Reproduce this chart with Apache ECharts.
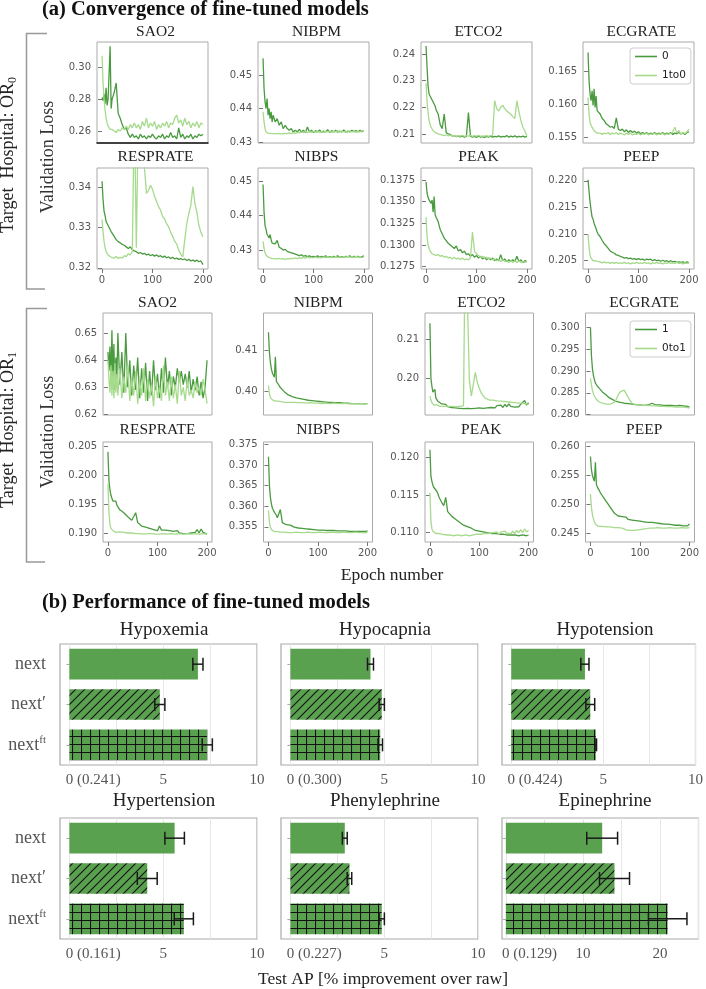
<!DOCTYPE html>
<html><head><meta charset="utf-8">
<script src="https://cdn.jsdelivr.net/npm/echarts@6/dist/echarts.min.js"></script>
<style>html,body{margin:0;padding:0;background:#fff}#c{width:706px;height:989px}</style>
</head><body><div id="c"></div>
<script>
// ---------------- DATA ----------------
const EPOCHS = [0,2,4,6,8,10,12,14,16,18,20,
 24,28,32,36,40,44,48,52,56,60,64,68,72,76,80,84,88,92,96,100,
 104,108,112,116,120,124,128,132,136,140,144,148,152,156,160,164,168,172,176,180,
 184,188,192,196,200];
const X_TICKS = [0,100,200];

// Target hospital OR0 : series "0" (A) and "1to0" (B)
const OR0_SAO2_A = [0.281,0.279,0.283,0.277,0.287,0.276,0.280,0.279,0.313,0.274,0.280,
 0.284,0.290,0.271,0.268,0.264,0.261,0.262,0.258,0.256,0.258,
 0.256,0.257,0.255,0.258,0.256,0.257,0.255,0.257,0.256,0.258,
 0.256,0.255,0.257,0.256,0.258,0.255,0.257,0.256,0.259,0.256,
 0.257,0.255,0.262,0.256,0.258,0.255,0.257,0.256,0.258,0.255,
 0.257,0.256,0.258,0.257,0.258];
const OR0_SAO2_B = [0.307,0.290,0.280,0.273,0.268,0.265,0.263,0.262,0.261,0.260,0.261,
 0.260,0.259,0.261,0.260,0.262,0.261,0.263,0.261,0.264,0.262,
 0.265,0.262,0.264,0.261,0.266,0.263,0.268,0.262,0.265,0.263,
 0.266,0.261,0.264,0.262,0.265,0.263,0.266,0.262,0.265,0.264,
 0.268,0.270,0.265,0.267,0.263,0.268,0.264,0.266,0.262,0.265,
 0.263,0.266,0.262,0.265,0.264];
const OR0_NIBPM_A = [0.455,0.446,0.442,0.440,0.443,0.438,0.440,0.437,0.439,0.436,0.438,
 0.436,0.437,0.435,0.436,0.434,0.435,0.434,0.4335,0.434,0.433,
 0.4335,0.433,0.4338,0.433,0.4335,0.4328,0.4345,0.433,0.4335,0.4328,
 0.4334,0.433,0.4336,0.4329,0.4333,0.433,0.4337,0.4329,0.4334,0.433,
 0.4335,0.4329,0.4333,0.433,0.4336,0.4329,0.4333,0.433,0.4335,0.4331,
 0.4334,0.433,0.4335,0.4331,0.4333];
const OR0_NIBPM_B = [0.439,0.436,0.434,0.433,0.4328,0.4326,0.4325,0.4326,0.4324,0.4325,0.4324,
 0.4325,0.4324,0.4326,0.4324,0.4325,0.4326,0.4325,0.4327,0.4325,0.4328,
 0.4326,0.4329,0.4327,0.433,0.4328,0.4331,0.4328,0.4331,0.4329,0.4332,
 0.4329,0.4332,0.4329,0.4331,0.4329,0.4332,0.433,0.4333,0.4329,0.4332,
 0.433,0.4334,0.4329,0.4333,0.433,0.4332,0.4329,0.4334,0.433,0.4332,
 0.4329,0.4333,0.433,0.4334,0.4331];
const OR0_ETCO2_A = [0.243,0.235,0.228,0.225,0.2245,0.2235,0.223,0.222,0.2215,0.2205,0.219,
 0.2175,0.2135,0.212,0.2175,0.2105,0.21,0.2098,0.2092,0.2094,0.209,
 0.2093,0.2089,0.2092,0.2088,0.2091,0.218,0.2092,0.2088,0.2091,0.2087,
 0.2092,0.2088,0.209,0.2087,0.2091,0.2088,0.2092,0.2088,0.2091,0.2089,
 0.2093,0.2088,0.2091,0.2089,0.2094,0.2088,0.2092,0.2089,0.2093,0.2088,
 0.2091,0.2089,0.2092,0.2088,0.2091];
const OR0_ETCO2_B = [0.229,0.222,0.218,0.215,0.2135,0.2125,0.2118,0.2112,0.211,0.2106,0.2104,
 0.21,0.2098,0.2096,0.2094,0.2097,0.2093,0.2096,0.2092,0.2095,0.2091,
 0.2094,0.2092,0.2095,0.2091,0.2094,0.2092,0.2095,0.2091,0.2094,0.2092,
 0.2095,0.2091,0.2093,0.2092,0.2094,0.2091,0.2094,0.2095,0.2225,0.2195,
 0.2186,0.22,0.2207,0.2195,0.2186,0.218,0.2174,0.2165,0.2158,0.2224,
 0.2185,0.215,0.2125,0.211,0.2093];
const OR0_ECGRATE_A = [0.1678,0.1635,0.1615,0.1605,0.162,0.1598,0.1623,0.1595,0.1612,0.159,0.1588,
 0.1585,0.1578,0.1575,0.157,0.1568,0.1565,0.1566,0.1563,0.1579,0.1562,
 0.156,0.1562,0.1558,0.1561,0.1557,0.156,0.1557,0.1559,0.1556,0.1558,
 0.1555,0.1557,0.1555,0.1557,0.1554,0.1556,0.1555,0.1557,0.1554,0.1556,
 0.1555,0.1557,0.1554,0.1556,0.1555,0.1557,0.1554,0.1556,0.1555,0.1557,
 0.1555,0.1556,0.1554,0.1557,0.1558];
const OR0_ECGRATE_B = [0.161,0.1585,0.1572,0.1568,0.1566,0.1562,0.156,0.1558,0.1557,0.1556,0.1555,
 0.1556,0.1554,0.1556,0.1555,0.1557,0.1554,0.1556,0.1555,0.1557,0.1554,
 0.1556,0.1555,0.1553,0.1556,0.1554,0.1556,0.1553,0.1555,0.1554,0.1556,
 0.1553,0.1555,0.1554,0.1556,0.1553,0.1555,0.1554,0.1556,0.1553,0.1555,
 0.1554,0.1556,0.1553,0.1555,0.1554,0.1556,0.1558,0.1565,0.1556,0.156,
 0.1554,0.1557,0.1555,0.1558,0.1562];
const OR0_RESPRATE_A = [0.3415,0.337,0.334,0.333,0.3315,0.331,0.3305,0.33,0.3295,0.329,0.3288,
 0.3278,0.327,0.3265,0.3262,0.3258,0.3256,0.3252,0.3248,0.3252,0.3245,
 0.3242,0.324,0.3236,0.3238,0.3234,0.3236,0.3232,0.3234,0.323,0.3233,
 0.3229,0.3232,0.3228,0.323,0.3226,0.3229,0.3225,0.3227,0.3223,0.3226,
 0.3222,0.3224,0.3221,0.3223,0.322,0.3222,0.3218,0.3221,0.3217,0.3219,
 0.3216,0.3219,0.3215,0.3217,0.3208];
const OR0_RESPRATE_B = [0.332,0.329,0.3265,0.325,0.324,0.3238,0.3232,0.323,0.3228,0.3226,0.3225,
 0.3224,0.3228,0.3223,0.3226,0.3224,0.323,0.3228,0.3235,0.3232,0.324,
 0.36,0.325,0.36,0.36,0.36,0.345,0.3385,0.3392,0.3405,0.3395,
 0.3378,0.3365,0.3352,0.3343,0.3327,0.3322,0.3309,0.3302,0.3288,0.3278,
 0.3266,0.3259,0.3244,0.3234,0.3227,0.327,0.331,0.3335,0.3355,0.3402,
 0.336,0.3338,0.3305,0.3288,0.3277];
const OR0_NIBPS_A = [0.449,0.441,0.437,0.436,0.4345,0.435,0.4335,0.4345,0.433,0.432,0.4325,
 0.4318,0.4328,0.4308,0.4305,0.43,0.4302,0.4296,0.4294,0.4292,0.429,
 0.4288,0.4286,0.4284,0.4286,0.4282,0.4284,0.4281,0.4283,0.428,0.4282,
 0.428,0.4283,0.4279,0.4282,0.428,0.4283,0.4279,0.4281,0.4279,0.4282,
 0.428,0.4283,0.4279,0.4281,0.4279,0.4282,0.428,0.4283,0.4279,0.4282,
 0.428,0.4282,0.4279,0.4281,0.4283];
const OR0_NIBPS_B = [0.4325,0.4305,0.4292,0.4285,0.4282,0.428,0.4278,0.4277,0.4276,0.4275,0.4276,
 0.4275,0.4274,0.4276,0.4274,0.4275,0.4273,0.4275,0.4274,0.4276,0.4275,
 0.4277,0.4275,0.4278,0.4276,0.4279,0.4276,0.428,0.4277,0.4279,0.4277,
 0.428,0.4277,0.4279,0.4277,0.428,0.4278,0.4281,0.4278,0.428,0.4278,
 0.4281,0.4278,0.428,0.4278,0.4281,0.4279,0.4282,0.4279,0.4281,0.4278,
 0.4282,0.4279,0.4281,0.4278,0.428];
const OR0_PEAK_A = [0.1373,0.136,0.1355,0.1352,0.135,0.1348,0.1352,0.1338,0.1356,0.1335,0.1332,
 0.1327,0.1318,0.1313,0.1308,0.1305,0.1302,0.13,0.1298,0.1296,0.1299,
 0.1293,0.1295,0.1291,0.1293,0.1289,0.129,0.1287,0.1289,0.1286,0.1288,
 0.1285,0.1287,0.1284,0.1286,0.1283,0.1285,0.1283,0.1285,0.1282,0.1284,
 0.1282,0.1289,0.1282,0.1284,0.1281,0.1283,0.1281,0.1283,0.1281,0.1287,
 0.1281,0.1283,0.128,0.1282,0.1281];
const OR0_PEAK_B = [0.1332,0.131,0.13,0.1296,0.1293,0.1292,0.129,0.1291,0.1289,0.129,0.1288,
 0.1289,0.1287,0.1288,0.1286,0.1287,0.1285,0.1286,0.1284,0.1286,0.1284,
 0.1285,0.1283,0.1285,0.1283,0.1284,0.1283,0.1285,0.1315,0.1293,0.129,
 0.1288,0.1286,0.1287,0.1285,0.1286,0.1284,0.1285,0.1283,0.1284,0.1282,
 0.1283,0.1281,0.1283,0.1281,0.1282,0.128,0.1282,0.128,0.1282,0.128,
 0.1282,0.128,0.1281,0.128,0.1281];
const OR0_PEEP_A = [0.2202,0.218,0.216,0.2145,0.2132,0.2128,0.212,0.2115,0.211,0.2104,0.21,
 0.2095,0.2088,0.2082,0.2078,0.2073,0.2068,0.2066,0.2064,0.2061,0.206,
 0.2058,0.2057,0.2055,0.2056,0.2054,0.2055,0.2053,0.2054,0.2052,0.2054,
 0.2052,0.2053,0.2051,0.2053,0.2052,0.2053,0.205,0.2052,0.205,0.2051,
 0.2049,0.2051,0.2049,0.205,0.2048,0.205,0.2048,0.2049,0.2047,0.2048,
 0.2047,0.2048,0.2046,0.2048,0.2046];
const OR0_PEEP_B = [0.21,0.2075,0.206,0.2055,0.2052,0.205,0.2049,0.205,0.2048,0.2049,0.2047,
 0.2048,0.2046,0.2048,0.2046,0.2047,0.2045,0.2047,0.2045,0.2047,0.2045,
 0.2046,0.2045,0.2047,0.2045,0.2046,0.2044,0.2046,0.2045,0.2047,0.2045,
 0.2046,0.2045,0.2047,0.2045,0.2046,0.2044,0.2046,0.2045,0.2047,0.2045,
 0.2046,0.2044,0.2046,0.2045,0.2047,0.2045,0.2046,0.2045,0.2047,0.2045,
 0.2046,0.2044,0.2046,0.2045,0.2046];

// Target hospital OR1 : series "1" (A) and "0to1" (B)
const OR1_SAO2_A = [0.643,0.636,0.645,0.632,0.651,0.634,0.646,0.629,0.641,0.633,0.65,
 0.631,0.643,0.628,0.65,0.63,0.64,0.627,0.638,0.629,0.641,
 0.626,0.637,0.628,0.639,0.625,0.636,0.627,0.64,0.629,0.635,
 0.626,0.637,0.628,0.641,0.63,0.636,0.627,0.634,0.63,0.637,
 0.632,0.636,0.631,0.635,0.63,0.636,0.628,0.633,0.629,0.634,
 0.627,0.632,0.626,0.63,0.64];
const OR1_SAO2_B = [0.64,0.633,0.628,0.638,0.627,0.636,0.626,0.639,0.628,0.635,0.627,
 0.637,0.626,0.634,0.628,0.638,0.625,0.633,0.627,0.636,0.624,
 0.632,0.627,0.637,0.625,0.633,0.626,0.631,0.623,0.634,0.626,
 0.63,0.625,0.638,0.627,0.632,0.625,0.634,0.626,0.631,0.624,
 0.636,0.627,0.63,0.625,0.633,0.627,0.629,0.626,0.632,0.628,
 0.63,0.627,0.633,0.629,0.624];
const OR1_NIBPM_A = [0.4145,0.4095,0.407,0.4055,0.4045,0.404,0.4035,0.4085,0.4025,0.4022,0.4018,
 0.401,0.4005,0.4,0.3996,0.3992,0.3994,0.3988,0.399,0.3985,0.3987,
 0.3983,0.3985,0.3981,0.3983,0.3979,0.3981,0.3978,0.398,0.3977,0.3979,
 0.3976,0.3978,0.3975,0.3977,0.3974,0.3976,0.3974,0.3976,0.3973,0.3975,
 0.3973,0.3975,0.3972,0.3974,0.3972,0.3974,0.3971,0.3973,0.3971,0.3973,
 0.3971,0.3973,0.397,0.3972,0.3971];
const OR1_NIBPM_B = [0.4015,0.3995,0.3985,0.3982,0.398,0.3979,0.3978,0.3977,0.3978,0.3976,0.3977,
 0.3976,0.3975,0.3976,0.3974,0.3975,0.3974,0.3976,0.3974,0.3975,0.3973,
 0.3975,0.3973,0.3974,0.3972,0.3974,0.3973,0.3974,0.3972,0.3974,0.3972,
 0.3973,0.3971,0.3973,0.3972,0.3973,0.3971,0.3973,0.3972,0.3973,0.3971,
 0.3972,0.3971,0.3973,0.3971,0.3972,0.397,0.3972,0.3971,0.3972,0.397,
 0.3972,0.3971,0.3972,0.397,0.3971];
const OR1_ETCO2_A = [0.214,0.2,0.198,0.1965,0.196,0.1972,0.195,0.1955,0.1942,0.1945,0.1938,
 0.1935,0.1932,0.1934,0.1928,0.193,0.1926,0.1929,0.1925,0.1928,0.1924,
 0.1927,0.1923,0.1926,0.1924,0.1927,0.1923,0.1926,0.1924,0.1928,0.1925,
 0.1929,0.1924,0.1928,0.1925,0.1929,0.1926,0.193,0.1925,0.1931,0.1927,
 0.1932,0.1926,0.1934,0.1928,0.1935,0.1929,0.1933,0.1927,0.1932,0.1928,
 0.1934,0.1929,0.1944,0.1932,0.1938];
const OR1_ETCO2_B = [0.1955,0.1945,0.1938,0.1935,0.1932,0.1934,0.193,0.1933,0.193,0.1932,0.1929,
 0.1932,0.1929,0.1933,0.1929,0.1932,0.1929,0.1931,0.1928,0.1932,0.1929,
 0.1931,0.193,0.24,0.24,0.1995,0.1955,0.1985,0.2015,0.199,0.1975,
 0.1963,0.1956,0.195,0.1947,0.1945,0.1942,0.1945,0.194,0.1943,0.1938,
 0.1942,0.1937,0.1941,0.1936,0.194,0.1935,0.1939,0.1934,0.1938,0.1933,
 0.1937,0.1932,0.1936,0.1931,0.1934];
const OR1_ECGRATE_A = [0.3,0.2935,0.2905,0.289,0.288,0.2872,0.287,0.2865,0.2862,0.286,0.2857,
 0.2852,0.2848,0.2845,0.284,0.2838,0.2835,0.2833,0.283,0.2832,0.2828,
 0.2829,0.2826,0.2827,0.2825,0.2826,0.2824,0.2825,0.2823,0.2824,0.2822,
 0.2823,0.2821,0.2823,0.2822,0.2824,0.2826,0.2823,0.2822,0.2821,0.2822,
 0.282,0.2821,0.282,0.2821,0.2819,0.2821,0.2819,0.282,0.2819,0.2821,
 0.2819,0.282,0.2818,0.2819,0.2817];
const OR1_ECGRATE_B = [0.2883,0.2868,0.2855,0.2848,0.2842,0.2838,0.2835,0.2832,0.283,0.2829,0.2828,
 0.2826,0.2825,0.2824,0.2825,0.2824,0.2826,0.2828,0.2835,0.2845,0.2852,
 0.285,0.2856,0.2848,0.284,0.2832,0.2826,0.2823,0.2822,0.2821,0.2822,
 0.282,0.2821,0.2819,0.2821,0.2819,0.282,0.2818,0.282,0.2818,0.2819,
 0.2817,0.2819,0.2817,0.2818,0.2816,0.2818,0.2816,0.2817,0.2816,0.2817,
 0.2815,0.2817,0.2815,0.2816,0.2815];
const OR1_RESPRATE_A = [0.204,0.199,0.1975,0.1965,0.196,0.1955,0.1958,0.1952,0.1955,0.1948,0.1945,
 0.194,0.1942,0.1935,0.1933,0.1928,0.1925,0.1922,0.192,0.1935,0.1918,
 0.1915,0.1912,0.1913,0.191,0.1911,0.1908,0.191,0.1906,0.1907,0.1904,
 0.1912,0.1905,0.1903,0.1905,0.1902,0.1904,0.1901,0.1903,0.19,0.1904,
 0.19,0.1902,0.1899,0.1901,0.1899,0.1902,0.19,0.1903,0.1901,0.1906,
 0.19,0.1907,0.1901,0.1904,0.1898];
const OR1_RESPRATE_B = [0.1985,0.1935,0.1915,0.1908,0.1905,0.1904,0.1902,0.1904,0.1901,0.1903,0.19,
 0.1902,0.1899,0.1901,0.1898,0.19,0.1898,0.19,0.1897,0.1899,0.1897,
 0.1899,0.1897,0.1898,0.1896,0.1899,0.1897,0.1899,0.1897,0.1898,0.1896,
 0.1898,0.1897,0.1899,0.1896,0.1898,0.1897,0.1899,0.1897,0.1898,0.1896,
 0.1899,0.1897,0.1898,0.1896,0.1899,0.1897,0.1898,0.1896,0.1899,0.1897,
 0.1898,0.1897,0.1899,0.1897,0.1898];
const OR1_NIBPS_A = [0.372,0.365,0.362,0.3605,0.3595,0.359,0.3585,0.3582,0.3578,0.3572,0.3568,
 0.3592,0.356,0.3556,0.3555,0.3552,0.3554,0.355,0.3549,0.3551,0.3547,
 0.3549,0.3546,0.3548,0.3545,0.3547,0.3544,0.3546,0.3543,0.3545,0.3542,
 0.3544,0.3542,0.3544,0.3541,0.3543,0.3541,0.3543,0.3541,0.3542,0.354,
 0.3542,0.354,0.3542,0.354,0.3541,0.3539,0.3541,0.3539,0.3541,0.3539,
 0.3541,0.3539,0.354,0.3539,0.354];
const OR1_NIBPS_B = [0.359,0.356,0.3548,0.3543,0.354,0.3539,0.3538,0.3539,0.3537,0.3538,0.3536,
 0.3537,0.3535,0.3537,0.3535,0.3536,0.3534,0.3536,0.3535,0.3537,0.3535,
 0.3536,0.3534,0.3536,0.3535,0.3537,0.3535,0.3536,0.3534,0.3536,0.3535,
 0.3537,0.3535,0.3536,0.3534,0.3536,0.3535,0.3537,0.3535,0.3536,0.3534,
 0.3536,0.3535,0.3537,0.3535,0.3536,0.3534,0.3536,0.3535,0.3537,0.3535,
 0.3536,0.3534,0.3536,0.3535,0.3536];
const OR1_PEAK_A = [0.121,0.1175,0.1168,0.1163,0.116,0.1161,0.1158,0.1155,0.1152,0.1148,0.1145,
 0.114,0.1136,0.1147,0.1128,0.1125,0.1122,0.112,0.1118,0.1116,0.1114,
 0.1112,0.111,0.1111,0.1108,0.1109,0.1106,0.1105,0.1103,0.1104,0.1102,
 0.11,0.1101,0.1099,0.11,0.1098,0.1099,0.1097,0.1099,0.1097,0.1098,
 0.1096,0.1098,0.1096,0.1097,0.1096,0.1097,0.1095,0.1097,0.1095,0.1096,
 0.1095,0.1097,0.1095,0.1096,0.1097];
const OR1_PEAK_B = [0.1153,0.1115,0.1105,0.1102,0.11,0.1101,0.1099,0.11,0.1098,0.1099,0.1097,
 0.1098,0.1096,0.1097,0.1095,0.1097,0.1095,0.1096,0.1095,0.1097,0.1095,
 0.1096,0.1095,0.1097,0.1095,0.1096,0.1095,0.1097,0.1096,0.1098,0.1096,
 0.1098,0.1097,0.1099,0.1097,0.1099,0.1097,0.11,0.1098,0.1101,0.1098,
 0.1101,0.1099,0.1102,0.1099,0.1101,0.1099,0.1102,0.1099,0.1103,0.11,
 0.1104,0.11,0.1105,0.1101,0.1103];
const OR1_PEEP_A = [0.2583,0.256,0.255,0.2545,0.254,0.2573,0.2535,0.253,0.2528,0.2524,0.252,
 0.2515,0.251,0.2505,0.25,0.2495,0.249,0.2485,0.2482,0.248,0.2478,
 0.2479,0.2476,0.2478,0.2474,0.2477,0.2473,0.2475,0.2472,0.2474,0.2471,
 0.2473,0.247,0.2472,0.2469,0.2471,0.2469,0.247,0.2468,0.247,0.2467,
 0.2469,0.2466,0.2468,0.2466,0.2467,0.2465,0.2467,0.2464,0.2466,0.2464,
 0.2466,0.2463,0.2466,0.2463,0.2466];
const OR1_PEEP_B = [0.2518,0.2495,0.2482,0.2475,0.247,0.2466,0.2465,0.2463,0.2462,0.2463,0.2461,
 0.2462,0.246,0.2461,0.2459,0.2461,0.2459,0.246,0.2458,0.246,0.2458,
 0.2459,0.2457,0.2456,0.2458,0.2455,0.2457,0.2455,0.2458,0.2456,0.2459,
 0.2457,0.246,0.2458,0.2461,0.2459,0.2461,0.2459,0.2462,0.246,0.2462,
 0.2459,0.2461,0.2459,0.2462,0.246,0.2462,0.2459,0.2461,0.2459,0.2462,
 0.246,0.2461,0.2459,0.2461,0.246];

// Bar panel data (b)
const TASKS = ['Hypoxemia','Hypocapnia','Hypotension','Hypertension','Phenylephrine','Epinephrine'];
const BAR_CATS = ['next','next′','next^ft'];
const BASELINES = ['0.241','0.300','0.424','0.161','0.227','0.129'];
const NEXT    = [6.85, 4.27, 4.00, 5.61, 2.90, 12.5];
const NEXT_P  = [4.82, 4.87, 4.29, 4.15, 3.15, 14.1];
const NEXT_FT = [7.35, 4.79, 4.59, 6.10, 4.87, 21.0];
const ERR_NEXT    = [0.27, 0.16, 0.22, 0.52, 0.13, 2.0];
const ERR_NEXT_P  = [0.27, 0.14, 0.24, 0.53, 0.12, 1.95];
const ERR_NEXT_FT = [0.27, 0.12, 0.04, 0.51, 0.14, 2.5];
const BAR_XMAX = [10,10,10,10,10,25];
const BAR_XLABELS = [[0,5,10],[0,5,10],[0,5,10],[0,5,10],[0,5,10],[0,10,20]];
const BAR_XGRID = [[0,2.5,5,7.5,10],[0,2.5,5,7.5,10],[0,2.5,5,7.5,10],[0,2.5,5,7.5,10],[0,2.5,5,7.5,10],[0,5,10,15,20,25]];

// ---------------- STYLE / LAYOUT ----------------
const SERIF = 'Liberation Serif';
const SANS = 'DejaVu Sans';
const DARK = '#4a9b3f', LIGHT = '#a6da8c', BARC = '#59a14f';
const LW = 1.3;

const GROUPS = [
  { cols:[[97,111],[258,111],[421,111],[583,111]], rows:[[42,101],[168,101]], tcx:[155.5,316.5,478.5,641.3], tcy:[32,157], names:['0','1to0'] },
  { cols:[[103,109],[263.5,109],[425,108.5],[585.5,109]], rows:[[313,102],[442,100]], tcx:[157.5,318.3,481.3,644.2], tcy:[303,430], names:['1','0to1'] }
];
const PANELS = [
 {g:0,r:0,c:0,t:'SAO2',y:[0.2525,0.3156],ticks:[0.26,0.28,0.30],d:2,a:OR0_SAO2_A,b:OR0_SAO2_B,blk:true},
 {g:0,r:0,c:1,t:'NIBPM',y:[0.4297,0.4599],ticks:[0.43,0.44,0.45],d:2,a:OR0_NIBPM_A,b:OR0_NIBPM_B},
 {g:0,r:0,c:2,t:'ETCO2',y:[0.2066,0.2445],ticks:[0.21,0.22,0.23,0.24],d:2,a:OR0_ETCO2_A,b:OR0_ETCO2_B},
 {g:0,r:0,c:3,t:'ECGRATE',y:[0.1541,0.1694],ticks:[0.155,0.160,0.165],d:3,a:OR0_ECGRATE_A,b:OR0_ECGRATE_B},
 {g:0,r:1,c:0,t:'RESPRATE',y:[0.3197,0.3448],ticks:[0.32,0.33,0.34],d:2,a:OR0_RESPRATE_A,b:OR0_RESPRATE_B},
 {g:0,r:1,c:1,t:'NIBPS',y:[0.4245,0.4538],ticks:[0.43,0.44,0.45],d:2,a:OR0_NIBPS_A,b:OR0_NIBPS_B},
 {g:0,r:1,c:2,t:'PEAK',y:[0.12724,0.13888],ticks:[0.1275,0.13,0.1325,0.135,0.1375],d:4,a:OR0_PEAK_A,b:OR0_PEAK_B},
 {g:0,r:1,c:3,t:'PEEP',y:[0.20345,0.2224],ticks:[0.205,0.21,0.215,0.22],d:3,a:OR0_PEEP_A,b:OR0_PEEP_B},
 {g:1,r:0,c:0,t:'SAO2',y:[0.6198,0.6574],ticks:[0.62,0.63,0.64,0.65],d:2,a:OR1_SAO2_A,b:OR1_SAO2_B},
 {g:1,r:0,c:1,t:'NIBPM',y:[0.3943,0.4192],ticks:[0.40,0.41],d:2,a:OR1_NIBPM_A,b:OR1_NIBPM_B},
 {g:1,r:0,c:2,t:'ETCO2',y:[0.1907,0.2166],ticks:[0.20,0.21],d:2,a:OR1_ETCO2_A,b:OR1_ETCO2_B},
 {g:1,r:0,c:3,t:'ECGRATE',y:[0.2799,0.3033],ticks:[0.28,0.285,0.29,0.295,0.30],d:3,a:OR1_ECGRATE_A,b:OR1_ECGRATE_B},
 {g:1,r:1,c:0,t:'RESPRATE',y:[0.18845,0.2057],ticks:[0.19,0.195,0.2,0.205],d:3,a:OR1_RESPRATE_A,b:OR1_RESPRATE_B},
 {g:1,r:1,c:1,t:'NIBPS',y:[0.3513,0.3756],ticks:[0.355,0.36,0.365,0.37,0.375],d:3,a:OR1_NIBPS_A,b:OR1_NIBPS_B},
 {g:1,r:1,c:2,t:'PEAK',y:[0.10877,0.12203],ticks:[0.11,0.115,0.12],d:3,a:OR1_PEAK_A,b:OR1_PEAK_B},
 {g:1,r:1,c:3,t:'PEEP',y:[0.2435,0.2608],ticks:[0.245,0.25,0.255,0.26],d:3,a:OR1_PEEP_A,b:OR1_PEEP_B}
];
const BAR_BOX_COLS = [[60,197],[281,197],[502,196.5]];
const BAR_BOX_ROWS = [[644,121],[818,121]];
const BAR_TCX = [164,385,605], BAR_TCY = [630,801];

// ---------------- BUILD ----------------
PANELS.forEach(p=>{ [p.a,p.b].forEach(arr=>{ if(arr.length!==EPOCHS.length) throw new Error(p.t+' g'+p.g+' length '+arr.length); }); });

const grid=[], xAxis=[], yAxis=[], series=[], graphic=[];
function text(x,y,str,font,o){ o=o||{};
  graphic.push({type:'text', x, y, rotation:o.rot||0, silent:true, z:100,
    style:{text:str, font, fill:o.color||'#222', align:o.align||'center', textAlign:o.align||'center',
      verticalAlign:'middle', textVerticalAlign:'middle', rich:o.rich}});
}

PANELS.forEach((p,i)=>{
  const G = GROUPS[p.g];
  const [left,width] = G.cols[p.c], [top,height] = G.rows[p.r];
  const showX = p.r===1;
  grid.push({left, top, width, height, show:true, borderColor:'#aaa', borderWidth:1, backgroundColor:'#fff', containLabel:false});
  xAxis.push({gridIndex:i, type:'value', min:-10, max:210,
    axisLine:{show:!!p.blk, onZero:false, lineStyle:{color:'#111', width:1.5}},
    splitLine:{show:false},
    axisTick:{show:showX, customValues:X_TICKS, length:4, lineStyle:{color:'#777'}},
    axisLabel:{show:showX, customValues:X_TICKS, fontFamily:SANS, fontSize:10, color:'#555', margin:6}});
  yAxis.push({gridIndex:i, type:'value', min:p.y[0], max:p.y[1],
    axisLine:{show:false}, splitLine:{show:false},
    axisTick:{show:true, customValues:p.ticks, length:4, lineStyle:{color:'#777'}},
    axisLabel:{customValues:p.ticks, formatter:(v)=>Number(v).toFixed(p.d), fontFamily:SANS, fontSize:10, color:'#555', margin:6}});
  [[p.a,DARK,G.names[0]],[p.b,LIGHT,G.names[1]]].forEach(([arr,col,name],k)=>{
    series.push({type:'line', name, xAxisIndex:i, yAxisIndex:i, symbol:'none', showSymbol:false, clip:true,
      z:2+k, data:EPOCHS.map((e,j)=>[e,arr[j]]), lineStyle:{width:LW, color:col}, itemStyle:{color:col}, emphasis:{disabled:true}});
  });
  text(G.tcx[p.c], G.tcy[p.r], p.t, '15.5px "'+SERIF+'"', {color:'#222'});
});

// patterns for hatched bars
function makePattern(kind){
  const c=document.createElement('canvas');
  const w=9, h=(kind==='grid')?7.5:9;
  c.width=w; c.height=Math.round(h);
  const g=c.getContext('2d');
  g.fillStyle=BARC; g.fillRect(0,0,c.width,c.height);
  g.strokeStyle='#111'; g.lineWidth=1.1; g.beginPath();
  if(kind==='diag'){ g.moveTo(0,w); g.lineTo(w,0); g.moveTo(-2,2); g.lineTo(2,-2); g.moveTo(w-2,w+2); g.lineTo(w+2,w-2); }
  else { g.moveTo(0.5,0); g.lineTo(0.5,c.height); g.moveTo(0,0.5); g.lineTo(c.width,0.5); }
  g.stroke();
  return c;
}
const DIAG = {image:makePattern('diag'), repeat:'repeat'};
const GRIDP = {image:makePattern('grid'), repeat:'repeat'};

function renderErr(params, api){
  const c=api.value(0);
  const a=api.coord([api.value(1), c]);
  const b=api.coord([api.value(2), c]);
  const h=6.5, st={stroke:'#1a1a1a', lineWidth:1.5};
  return {type:'group', children:[
    {type:'line', shape:{x1:a[0],y1:a[1],x2:b[0],y2:b[1]}, style:st},
    {type:'line', shape:{x1:a[0],y1:a[1]-h,x2:a[0],y2:a[1]+h}, style:st},
    {type:'line', shape:{x1:b[0],y1:b[1]-h,x2:b[0],y2:b[1]+h}, style:st}]};
}

TASKS.forEach((task,t)=>{
  const i = PANELS.length + t;
  const r = Math.floor(t/3), c = t%3;
  const [left,width]=BAR_BOX_COLS[c], [top,height]=BAR_BOX_ROWS[r];
  grid.push({left, top, width, height, show:true, borderColor:'#aaa', borderWidth:1.2, backgroundColor:'#fff'});
  const base = BASELINES[t];
  xAxis.push({gridIndex:i, type:'value', min:-0.5, max:BAR_XMAX[t],
    axisLine:{show:false},
    axisTick:{show:false, customValues:BAR_XGRID[t]},
    splitLine:{show:true, lineStyle:{color:'#e6e6e6', width:1}},
    axisLabel:{customValues:BAR_XLABELS[t], fontFamily:SERIF, fontSize:15, color:'#555', margin:8,
      formatter:(v)=> v===0 ? '{h|('+base+') }0 ('+base+')' : String(v),
      rich:{h:{color:'rgba(0,0,0,0)', fontFamily:SERIF, fontSize:15}}}});
  yAxis.push({gridIndex:i, type:'category', data:BAR_CATS, inverse:true,
    axisLine:{show:false}, splitLine:{show:false},
    axisTick:{show:true, alignWithLabel:true, length:3, lineStyle:{color:'#aaa'}},
    axisLabel:{show:c===0, margin:14, formatter:(v)=> v==='next^ft' ? '{n|next}{s|ft}' : '{n|'+v+'}',
      rich:{n:{fontFamily:SERIF, fontSize:18, color:'#555'}, s:{fontFamily:SERIF, fontSize:11, color:'#555', padding:[0,0,9,0]}}}});
  series.push({type:'bar', xAxisIndex:i, yAxisIndex:i, barWidth:'76%', z:2,
    data:[{value:NEXT[t], itemStyle:{color:BARC}}, {value:NEXT_P[t], itemStyle:{color:DIAG}}, {value:NEXT_FT[t], itemStyle:{color:GRIDP}}],
    emphasis:{disabled:true}});
  series.push({type:'custom', xAxisIndex:i, yAxisIndex:i, z:10, renderItem:renderErr, encode:{x:[1,2], y:0},
    data:[[0, NEXT[t]-ERR_NEXT[t], NEXT[t]+ERR_NEXT[t]], [1, NEXT_P[t]-ERR_NEXT_P[t], NEXT_P[t]+ERR_NEXT_P[t]], [2, NEXT_FT[t]-ERR_NEXT_FT[t], NEXT_FT[t]+ERR_NEXT_FT[t]]]});
  text(BAR_TCX[c], BAR_TCY[r], task, '19px "'+SERIF+'"', {color:'#222'});
});

// section titles & labels
text(42, 9.5, '(a) Convergence of fine-tuned models', 'bold 20.5px "'+SERIF+'"', {align:'left', color:'#111'});
text(42, 603, '(b) Performance of fine-tuned models', 'bold 20.5px "'+SERIF+'"', {align:'left', color:'#111'});
text(392, 575, 'Epoch number', '17.5px "'+SERIF+'"', {color:'#222'});
text(383, 979, 'Test AP [% improvement over raw]', '17.5px "'+SERIF+'"', {color:'#222'});
const richOR = {a:{fontFamily:SERIF, fontSize:18, color:'#333'}, s:{fontFamily:SERIF, fontSize:12, color:'#333', padding:[9,0,0,0]}};
text(8, 155, '{a|Target  Hospital: OR}{s|0}', '18px "'+SERIF+'"', {rot:Math.PI/2, rich:richOR});
text(8, 430, '{a|Target  Hospital: OR}{s|1}', '18px "'+SERIF+'"', {rot:Math.PI/2, rich:richOR});
text(48, 157, 'Validation Loss', '18px "'+SERIF+'"', {rot:Math.PI/2, color:'#333'});
text(48, 432, 'Validation Loss', '18px "'+SERIF+'"', {rot:Math.PI/2, color:'#333'});
[[33.5,289],[308.5,562]].forEach(([y1,y2])=>{
  graphic.push({type:'polyline', silent:true, shape:{points:[[47,y1],[26.5,y1],[26.5,y2],[45,y2]]}, style:{stroke:'#999', lineWidth:1.5, fill:null}});
});

const legendBase = {orient:'vertical', padding:[2,5], itemGap:6, itemWidth:22, itemHeight:1.6, icon:'rect',
  borderColor:'#ccc', borderWidth:1, borderRadius:3, backgroundColor:'#fff',
  textStyle:{fontFamily:SANS, fontSize:10.5, color:'#222', lineHeight:13}, selectedMode:false};
const legend = [
  Object.assign({}, legendBase, {left:630, top:48, data:['0','1to0']}),
  Object.assign({}, legendBase, {left:630, top:321, data:['1','0to1']})
];

const chart = echarts.init(document.getElementById('c'), null, {renderer:'canvas'});
chart.setOption({animation:false, backgroundColor:'#fff', grid, xAxis, yAxis, series, legend, graphic});
</script></body></html>
